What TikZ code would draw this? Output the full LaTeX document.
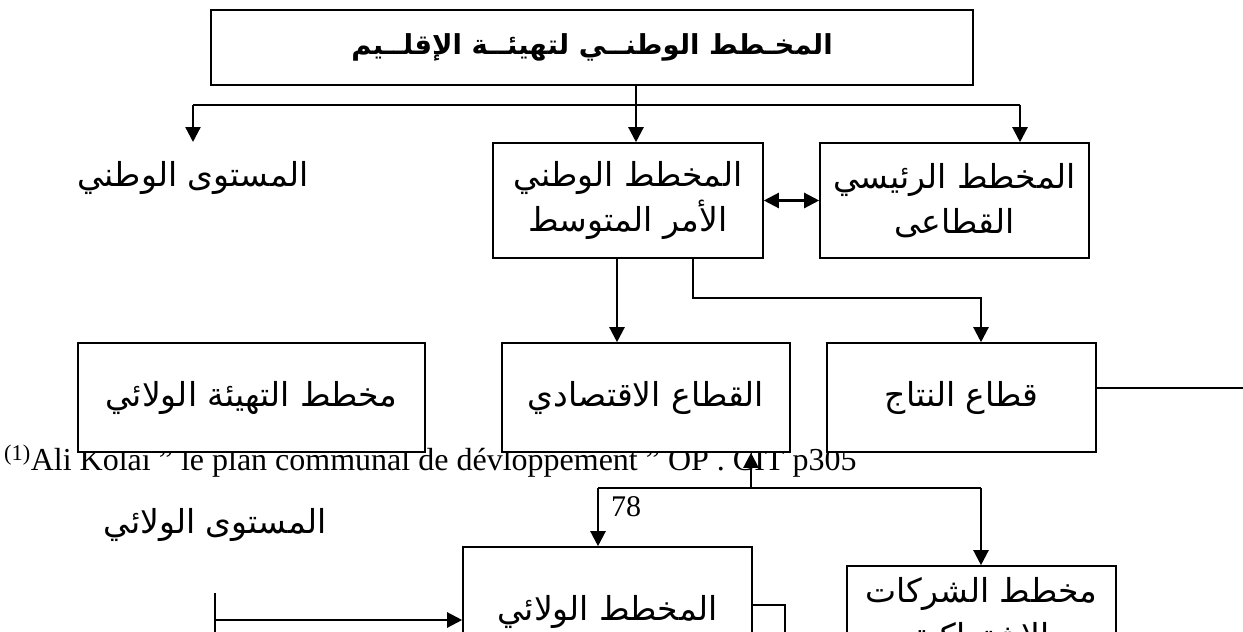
\documentclass[tikz,border=0pt]{standalone}
\usepackage{fontspec}
\setmainfont{Liberation Serif}
\newfontfamily\arabicfont[Script=Arabic]{DejaVu Sans}
\TeXXeTstate=1
\usetikzlibrary{arrows.meta}
\newcommand{\ar}[1]{\beginR #1\endR}
\begin{document}
\begin{tikzpicture}[x=1pt,y=-1pt,
  bx/.style={draw,line width=1.6pt,fill=white,inner sep=0pt,align=center,
     font=\arabicfont\fontsize{33}{45}\selectfont},
  lbl/.style={inner sep=0pt,font=\arabicfont\fontsize{33}{45}\selectfont},
  conn/.style={line width=2.3pt},
  arr/.style={conn,-{Triangle[length=15pt,width=15pt]}},
  dbl/.style={conn,{Triangle[length=15pt,width=15pt]}-{Triangle[length=15pt,width=15pt]}},
]
\useasboundingbox (0,0) rectangle (1243,632);
\clip (0,0) rectangle (1243,632);
% footnote (lies under the boxes)
\node[anchor=base west,inner sep=0pt,font=\fontsize{32}{34}\selectfont] (fn) at (4,470)
  {\textsuperscript{(1)}Ali Kolai " le plan communal de dévloppement " OP . CIT p305};
% boxes
\node[bx,minimum width=762pt,minimum height=75pt,font=\arabicfont\bfseries\fontsize{27.5}{36}\selectfont] (T) at (592,47.5)
  {\ar{المخـطط الوطنــي لتهيئــة الإقلــيم}};
\node[bx,minimum width=270pt,minimum height=115pt] (B1) at (628,200.5)
  {\ar{المخطط الوطني}\\\ar{الأمر المتوسط}};
\node[bx,minimum width=269pt,minimum height=115pt] (B2) at (954.5,200.5)
  {\ar{المخطط الرئيسي}\\\ar{القطاعى}};
\node[bx,minimum width=347pt,minimum height=109pt] (C1) at (251.5,397.5)
  {\ar{مخطط التهيئة الولائي}};
\node[bx,minimum width=288pt,minimum height=109pt] (C2) at (646,397.5)
  {\ar{القطاع الاقتصادي}};
\node[bx,minimum width=269pt,minimum height=109pt] (C3) at (961.5,397.5)
  {\ar{قطاع النتاج}};
\node[bx,minimum width=289pt,minimum height=160pt] (D1) at (607.5,627) {};
\node[lbl] (D1t) at (607.5,612) {\ar{المخطط الولائي}};
\node[bx,minimum width=269pt,minimum height=160pt] (D2) at (981.5,646) {};
\node[lbl,align=center] (D2t) at (981.5,616)
  {\ar{مخطط الشركات}\\\ar{الاشتراكية}};
% free labels
\node[lbl] (LV1) at (193,178) {\ar{المستوى الوطني}};
\node[lbl] (LV2) at (215,525) {\ar{المستوى الولائي}};
\node[inner sep=0pt,font=\fontsize{30}{32}\selectfont] (n78) at (626,507) {78};
% top connectors
\coordinate (j1) at (636,105);
\coordinate (hL) at (193,105);
\coordinate (hR) at (1020,105);
\draw[conn] (j1 |- T.south) -- (j1);
\draw[conn] (hL) -- (hR);
\draw[arr] (hL) -- ++(0,37);
\draw[arr] (j1) -- (j1 |- B1.north);
\draw[arr] (hR) -- (hR |- B2.north);
\draw[dbl] (B1.east) -- (B2.west);
% from B1 down
\draw[arr] ([xshift=-11pt]B1.south) -- ([xshift=-11pt]B1.south |- C2.north);
\draw[arr] ([xshift=65pt]B1.south) -- ++(0,39) -| ([xshift=19.5pt]C3.north);
\draw[conn] ([yshift=9.5pt]C3.east) -- ++(160,0);
% lower part
\coordinate (up) at (751,488);
\coordinate (gL) at (598,488);
\coordinate (gR) at (981,488);
\draw[arr] (up) -- (up |- C2.south);
\draw[conn] (gL) -- (gR);
\draw[arr] (gL) -- (gL |- D1.north);
\draw[arr] (gR) -- (gR |- D2.north);
\coordinate (tk) at (215,620);
\draw[conn] (215,593) -- (215,660);
\draw[arr] (tk) -- (tk -| D1.west);
\coordinate (br) at (785,605);
\draw[line width=1.6pt] (br -| D1.east) -- (br) -- ++(0,60);
\end{tikzpicture}
\end{document}
